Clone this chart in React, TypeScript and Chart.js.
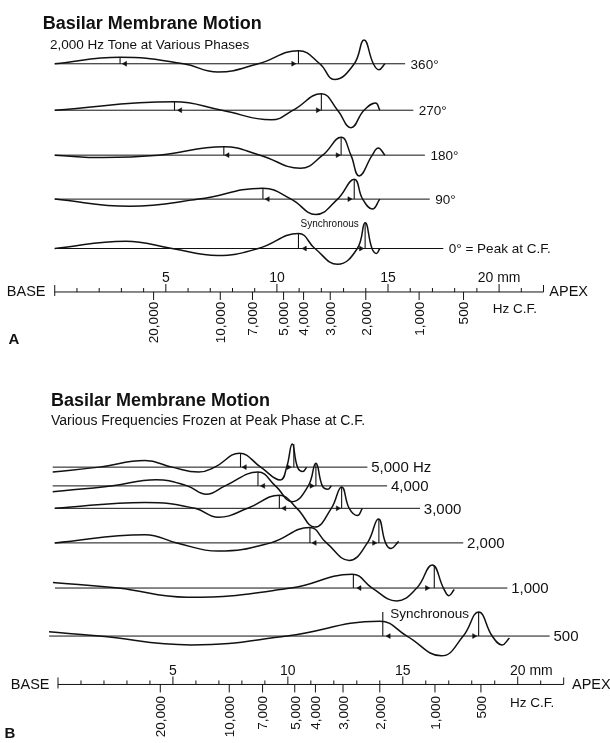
import React, { useEffect, useRef } from "react";
import { Chart, registerables } from "chart.js";

Chart.register(...registerables);

// ================= DATA =================
// Panel A: 2,000 Hz tone at various phases.
// Each wave point = [distance from base (mm), displacement]
const A_LABELS = ["360°", "270°", "180°", "90°", "0° = Peak at C.F."];
const WAVE_360 = [[0, 0], [2.94, 6.7], [5.79, 0], [7.34, -8.3], [9.16, 0], [10.97, 13.3], [11.93, 0], [12.59, -16], [13.48, 0], [13.92, 24], [14.34, 0], [14.59, -6], [14.86, 0]];
const WAVE_270 = [[0, 0], [5.39, 8.5], [7.52, 0], [9.76, -9.7], [10.73, 0], [12.0, 16.7], [12.73, 0], [13.33, -17.7], [13.92, 0], [14.44, 7.4], [14.63, 0]];
const WAVE_180 = [[0, 0], [2.17, -2.5], [4.67, 0], [7.61, 8.5], [9.24, 0], [11.06, -13.2], [12.06, 0], [12.89, 18], [13.33, 0], [13.7, -21], [14.29, 0], [14.56, 7.3], [14.86, 0]];
const WAVE_90 = [[0, 0], [3.37, -7.3], [6.48, 0], [9.37, 11], [10.64, 0], [11.75, -15.5], [12.73, 0], [13.48, 20], [13.86, 0], [14.3, -10], [14.63, 0]];
const WAVE_0 = [[0, 0], [3.2, 7.3], [5.28, 0], [7.34, -7], [9.16, 0], [10.97, 15.3], [11.71, 0], [12.73, -16], [13.62, 0], [13.97, 26], [14.28, 0], [14.48, -5], [14.63, 0]];
const A_WAVES = [WAVE_360, WAVE_270, WAVE_180, WAVE_90, WAVE_0];
// vertical markers [mm, height]
const A_MARKERS = [
  [[2.94, 6.7], [10.97, 13.3]],
  [[5.39, 8.5], [12.0, 16.7]],
  [[7.61, 8.5], [12.89, 18]],
  [[9.37, 11], [13.48, 20]],
  [[10.97, 15.3], [13.97, 26]],
];
// arrow heads [left mm, right mm]
const A_ARROWS = [[3.17, 10.73], [5.65, 11.84], [7.78, 12.73], [9.59, 13.26], [11.26, 13.78]];

// Panel B: various frequencies frozen at peak phase at C.F.
const B_LABELS = ["5,000 Hz", "4,000", "3,000", "2,000", "1,000", "500"];
const WAVE_5000 = [[-0.23, -5], [1.79, 0], [3.79, 6.7], [4.96, 0], [6.12, -5], [6.82, 0], [7.9, 14], [8.82, 0], [9.67, -13], [9.95, 0], [10.19, 23.3], [10.42, 0], [10.65, -4.4], [10.82, 0]];
const WAVE_4000 = [[-0.23, -6], [2.3, 0], [4.27, 6.3], [5.62, 0], [6.46, -8.5], [7.27, 0], [8.7, 14], [9.46, 0], [10.19, -16], [10.89, 0], [11.22, 23], [11.5, 0], [11.74, -3.4], [11.89, 0]];
const WAVE_3000 = [[-0.14, 0], [3.79, 6], [5.96, 0], [6.97, -9], [8.25, 0], [9.63, 13.3], [10.39, 0], [11.17, -19], [11.89, 0], [12.34, 21.7], [12.67, 0], [13.03, -7.3], [13.24, 0]];
const WAVE_2000 = [[-0.14, 0], [3.79, 8.3], [5.17, 0], [6.96, -8.3], [9.25, 0], [10.94, 15.7], [11.68, 0], [12.67, -17.7], [13.46, 0], [13.94, 24.3], [14.25, 0], [14.49, -5.7], [14.82, 1.5]];
const WAVE_1000 = [[-0.22, 5.7], [2.62, 0], [5.62, -9.3], [10.13, 0], [12.8, 14], [13.67, 0], [14.73, -13], [15.61, 0], [16.28, 23.4], [16.77, 0], [17.0, -7.7], [17.24, -1.5]];
const WAVE_500 = [[-0.39, 4.3], [1.79, 0], [5.79, -9], [9.96, 0], [14.0, 15], [15.18, 0], [16.68, -20], [17.63, 0], [18.3, 24.3], [18.89, 0], [19.31, -9], [19.64, -2]];
const B_WAVES = [WAVE_5000, WAVE_4000, WAVE_3000, WAVE_2000, WAVE_1000, WAVE_500];
const B_MARKERS = [
  [[7.94, 14], [10.26, 23.3]],
  [[8.7, 14], [11.22, 23]],
  [[9.63, 13.3], [12.34, 21.7]],
  [[10.96, 15.7], [13.96, 24.3]],
  [[12.85, 13.8], [16.37, 23]],
  [[14.13, 24.3], [18.3, 24.3]],
];
const B_ARROWS = [[8.13, 10.03], [8.93, 11.03], [9.85, 12.17], [11.17, 13.75], [13.12, 16.05], [14.39, 18.1]];

// Axis (place-frequency map)
const MM_MAJOR = [5, 10, 15, 20];
const MM_MAX = 22;
const HZ_LABELS = ["20,000", "10,000", "7,000", "5,000", "4,000", "3,000", "2,000", "1,000", "500"];
const HZ_MM = [4.45, 7.45, 8.9, 10.3, 11.2, 12.4, 14.0, 16.4, 18.4];

// ================= LAYOUT =================
const W = 610;
const H = 743;
const INK = "#111111";
const FONT = '"Liberation Sans", Arial, Helvetica, sans-serif';

const PANEL_A = {
  xAxisID: "x",
  x0: 51, pxPerMm: 22.55,
  rows: [60, 107, 152.5, 197, 247],
  lineStart: [0, 0, 0, 0, 0],
  lineEnd: [15.77, 16.14, 16.66, 16.88, 17.49],
  labelGap: 5.5, labelSize: 13.5,
  title: { x: 42.7, y: 25 }, subtitle: { x: 50, y: 45, size: 13.5, text: "2,000 Hz Tone at Various Phases" },
  sync: { row: 4, marker: 0, dx: 2, y: 225, size: 10 },
  axisY: 291, baseRight: 45.5, apexLeft: 549.3, mmLabelY: 281.3, hzTop: 301, hzCF: { x: 492.7, y: 312 },
  unitCentered: true,
  letter: { t: "A", x: 8.4, y: 343.3 },
};
const PANEL_B = {
  xAxisID: "x2",
  x0: 54.3, pxPerMm: 23.33,
  rows: [468.3, 487.3, 510, 545, 590.7, 639.3],
  lineStart: [-0.23, -0.23, -0.14, -0.14, -0.13, -0.39],
  lineEnd: [13.46, 14.32, 15.75, 17.63, 19.55, 21.39],
  labelGap: 3.8, labelSize: 15,
  title: { x: 51, y: 406 }, subtitle: { x: 51, y: 426, size: 14, text: "Various Frequencies Frozen at Peak Phase at C.F." },
  sync: { row: 5, marker: 0, dx: 7.5, y: 621, size: 13.5 },
  axisY: 688.3, baseRight: 49.5, apexLeft: 572, mmLabelY: 679, hzTop: 700, hzCF: { x: 510, y: 711.5 },
  unitCentered: false,
  letter: { t: "B", x: 4.5, y: 742 },
};

function buildDatasets(panel: any, waves: number[][][], markers: number[][][], arrows: number[][]) {
  const ds: any[] = [];
  const common = { xAxisID: panel.xAxisID, yAxisID: "y", pointRadius: 0, clip: false as any };
  waves.forEach((w, i) => {
    const y0 = panel.rows[i];
    ds.push({ ...common, data: [{ x: panel.lineStart[i], y: y0 }, { x: panel.lineEnd[i], y: y0 }], borderColor: INK, borderWidth: 1, tension: 0 });
    ds.push({
      ...common,
      data: w.map(([m, d]) => ({ x: m, y: y0 - d })),
      borderColor: INK, borderWidth: 1.5, tension: 0.45, capBezierPoints: false,
    });
    markers[i].forEach(([m, h]) => {
      ds.push({ ...common, data: [{ x: m, y: y0 }, { x: m, y: y0 - h }], borderColor: INK, borderWidth: 1.1, tension: 0 });
    });
    ds.push({
      ...common,
      data: [{ x: arrows[i][0], y: y0 }, { x: arrows[i][1], y: y0 }],
      showLine: false, pointStyle: "triangle", pointRotation: [-90, 90], pointRadius: 2.8,
      pointBackgroundColor: INK, pointBorderColor: INK, pointBorderWidth: 0.5,
    });
  });
  return ds;
}

function txt(ctx: CanvasRenderingContext2D, s: string, x: number, y: number, size: number, bold = false, align: CanvasTextAlign = "left") {
  ctx.font = `${bold ? "bold " : ""}${size}px ${FONT}`;
  ctx.textAlign = align;
  ctx.textBaseline = "alphabetic";
  ctx.fillStyle = INK;
  ctx.fillText(s, x, y);
}

function drawPanel(chart: any, panel: any, labels: string[], markers: number[][][]) {
  const ctx: CanvasRenderingContext2D = chart.ctx;
  const xs = chart.scales[panel.xAxisID];
  const ys = chart.scales.y;
  const px = (m: number) => xs.getPixelForValue(m);
  const py = (v: number) => ys.getPixelForValue(v);

  txt(ctx, "Basilar Membrane Motion", panel.title.x, py(panel.title.y), 18, true);
  txt(ctx, panel.subtitle.text, panel.subtitle.x, py(panel.subtitle.y), panel.subtitle.size);

  labels.forEach((l, i) => {
    const cap = panel.labelSize * 0.716;
    txt(ctx, l, px(panel.lineEnd[i]) + panel.labelGap, py(panel.rows[i]) + cap / 2, panel.labelSize);
  });

  const sm = markers[panel.sync.row][panel.sync.marker][0];
  txt(ctx, "Synchronous", px(sm) + panel.sync.dx, py(panel.sync.y), panel.sync.size);

  const ay = py(panel.axisY);
  ctx.strokeStyle = INK;
  ctx.lineWidth = 1;
  ctx.beginPath();
  ctx.moveTo(px(0), ay);
  ctx.lineTo(px(MM_MAX), ay);
  ctx.moveTo(px(0), ay - 7);
  ctx.lineTo(px(0), ay + 4);
  ctx.moveTo(px(MM_MAX), ay - 7);
  ctx.lineTo(px(MM_MAX), ay);
  for (let m = 1; m < MM_MAX; m++) {
    const len = MM_MAJOR.includes(m) ? 8 : 4;
    ctx.moveTo(px(m), ay);
    ctx.lineTo(px(m), ay - len);
  }
  HZ_MM.forEach((m) => {
    ctx.moveTo(px(m), ay);
    ctx.lineTo(px(m), ay + 8);
  });
  ctx.stroke();

  txt(ctx, "BASE", panel.baseRight, ay + 4.5, 14.5, false, "right");
  txt(ctx, "APEX", panel.apexLeft, ay + 4.5, 14.5, false, "left");

  MM_MAJOR.forEach((m, i) => {
    const last = i === MM_MAJOR.length - 1;
    if (last && panel.unitCentered) {
      txt(ctx, `${m} mm`, px(m), py(panel.mmLabelY), 14, false, "center");
    } else {
      txt(ctx, `${m}`, px(m), py(panel.mmLabelY), 14, false, "center");
      if (last) {
        ctx.font = `14px ${FONT}`;
        const w = ctx.measureText(`${m}`).width;
        txt(ctx, " mm", px(m) + w / 2, py(panel.mmLabelY), 14, false, "left");
      }
    }
  });

  HZ_LABELS.forEach((l, i) => {
    ctx.save();
    ctx.translate(px(HZ_MM[i]), py(panel.hzTop));
    ctx.rotate(-Math.PI / 2);
    ctx.font = `13.5px ${FONT}`;
    ctx.textAlign = "right";
    ctx.textBaseline = "alphabetic";
    ctx.fillStyle = INK;
    ctx.fillText(l, 0, 13.5 * 0.716 / 2);
    ctx.restore();
  });
  txt(ctx, "Hz C.F.", panel.hzCF.x, py(panel.hzCF.y), 13.5);

  txt(ctx, panel.letter.t, panel.letter.x, py(panel.letter.y), 15, true);
}

const textPlugin = {
  id: "diagramText",
  afterDatasetsDraw(chart: any) {
    const ctx = chart.ctx;
    ctx.save();
    drawPanel(chart, PANEL_A, A_LABELS, A_MARKERS);
    drawPanel(chart, PANEL_B, B_LABELS, B_MARKERS);
    ctx.restore();
  },
};

const whiteBg = {
  id: "whiteBg",
  beforeDraw(chart: any) {
    const ctx = chart.ctx;
    ctx.save();
    ctx.fillStyle = "#ffffff";
    ctx.fillRect(0, 0, chart.width, chart.height);
    ctx.restore();
  },
};

export default function App() {
  const ref = useRef<HTMLCanvasElement>(null);
  useEffect(() => {
    if (!ref.current) return;
    const datasets = [
      ...buildDatasets(PANEL_A, A_WAVES, A_MARKERS, A_ARROWS),
      ...buildDatasets(PANEL_B, B_WAVES, B_MARKERS, B_ARROWS),
    ];
    const chart = new Chart(ref.current, {
      type: "line",
      data: { datasets },
      options: {
        animation: false,
        responsive: false,
        devicePixelRatio: 1,
        events: [],
        layout: { padding: 0 },
        plugins: { legend: { display: false }, tooltip: { enabled: false }, title: { display: false } },
        scales: {
          x: { type: "linear", min: -PANEL_A.x0 / PANEL_A.pxPerMm, max: (W - PANEL_A.x0) / PANEL_A.pxPerMm, display: false },
          x2: { type: "linear", axis: "x", min: -PANEL_B.x0 / PANEL_B.pxPerMm, max: (W - PANEL_B.x0) / PANEL_B.pxPerMm, display: false },
          y: { type: "linear", min: 0, max: H, reverse: true, display: false },
        },
      } as any,
      plugins: [whiteBg, textPlugin],
    });
    return () => chart.destroy();
  }, []);
  return (
    <div style={{ position: "absolute", left: 0, top: 0, width: W, height: H, background: "#fff" }}>
      <canvas ref={ref} width={W} height={H} style={{ display: "block", width: W, height: H }} />
    </div>
  );
}
